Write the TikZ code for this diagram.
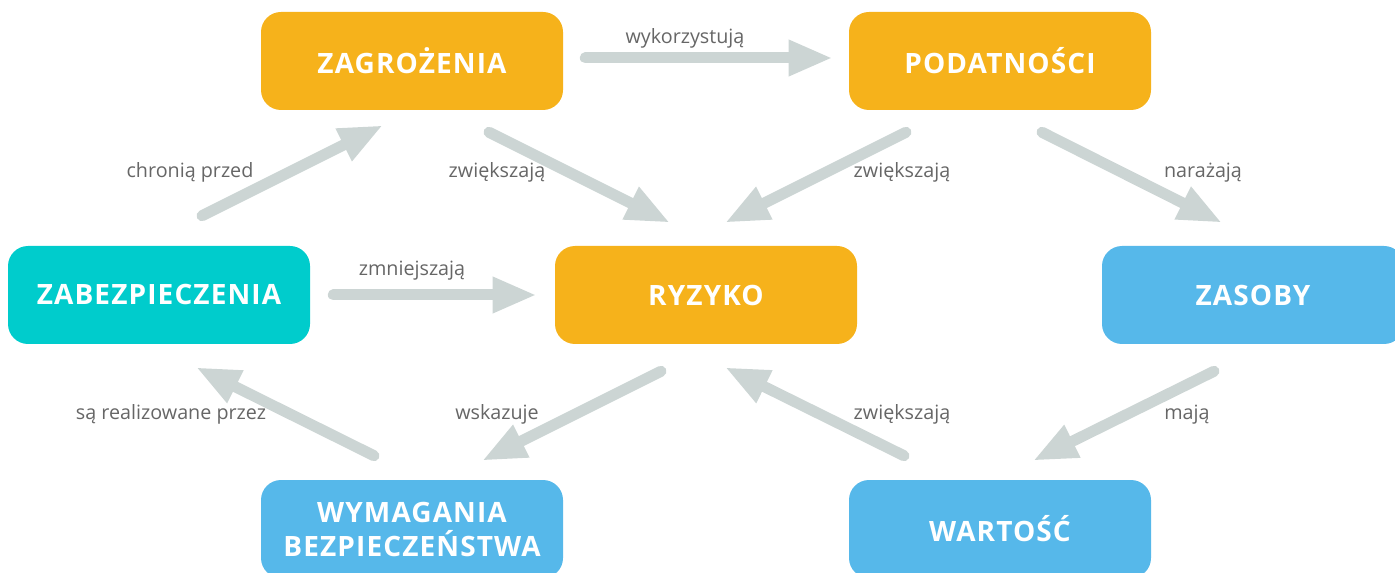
\documentclass[tikz,border=0pt]{standalone}
\usepackage{fontspec}
\setmainfont{Open Sans}
\newfontfamily\boxfont{Open Sans}[LetterSpace=4]
\usetikzlibrary{arrows.meta,calc}
\definecolor{ambergold}{HTML}{F6B21B}
\definecolor{tealbox}{HTML}{00CCCC}
\definecolor{skyblue}{HTML}{56B8EA}
\definecolor{arrowgray}{HTML}{CCD5D4}
\definecolor{labelgray}{HTML}{666666}
\tikzset{
  box/.style={rounded corners=15pt, minimum width=226.5pt, minimum height=73.5pt,
    text=white, align=center, font=\boxfont\bfseries\fontsize{21}{25.5}\selectfont},
  arrow/.style={line width=8.25pt, draw=arrowgray, line cap=round,
    -{Triangle[length=33pt,width=25pt]}},
  lbl/.style={anchor=base, text=labelgray, font=\fontsize{14.8}{17}\selectfont}
}
\begin{document}
\begin{tikzpicture}[x=0.75pt,y=-0.75pt]
\useasboundingbox (0,0) rectangle (1395,573);
\clip (0,0) rectangle (1395,573);
\node[box,fill=ambergold] (zag) at (412,61) {ZAGROŻENIA};
\node[box,fill=ambergold] (pod) at (1000,61) {PODATNOŚCI};
\node[box,fill=tealbox] (zab) at (159,295) {ZABEZPIECZENIA};
\node[box,fill=ambergold] (ryz) at (706,295) {RYZYKO};
\node[box,fill=skyblue] (zas) at (1253,295) {ZASOBY};
\node[box,fill=skyblue] (wym) at (412,529) {WYMAGANIA\\BEZPIECZEŃSTWA};
\node[box,fill=skyblue] (war) at (1000,529) {WARTOŚĆ};
% connectors
\draw[arrow] ($(zag.east)+(22,-3)$) -- ($(pod.west)+(-16,-3)$);
\draw[arrow] ($(zag.south)+(77,22)$) -- ($(ryz.north)+(-36,-23)$);
\draw[arrow] ($(pod.south)+(-94,22)$) -- ($(ryz.north)+(19,-23)$);
\draw[arrow] ($(pod.south)+(42,22)$) -- ($(zas.north)+(-31,-23)$);
\draw[arrow] ($(zab.north)+(43,-30)$) -- ($(zag.south)+(-29,15)$);
\draw[arrow] ($(zab.east)+(23,0)$) -- ($(ryz.west)+(-18,0)$);
\draw[arrow] ($(zas.south)+(-39,27)$) -- ($(war.north)+(33,-19)$);
\draw[arrow] ($(war.north)+(-96,-24)$) -- ($(ryz.south)+(19,23)$);
\draw[arrow] ($(ryz.south)+(-45,27)$) -- ($(wym.north)+(70,-19)$);
\draw[arrow] ($(wym.north)+(-38,-24)$) -- ($(zab.south)+(37,23)$);
% labels
\node[lbl] (l1) at (685,44) {wykorzystują};
\node[lbl] (l2) at (497,178) {zwiększają};
\node[lbl] (l3) at (902,178) {zwiększają};
\node[lbl] (l4) at (1203,178) {narażają};
\node[lbl] (l5) at (190,178) {chronią przed};
\node[lbl] (l6) at (412,276) {zmniejszają};
\node[lbl] (l7) at (171,419) {są realizowane przez};
\node[lbl] (l8) at (497,419) {wskazuje};
\node[lbl] (l9) at (902,419) {zwiększają};
\node[lbl] (l10) at (1187,419) {mają};
\end{tikzpicture}
\end{document}
